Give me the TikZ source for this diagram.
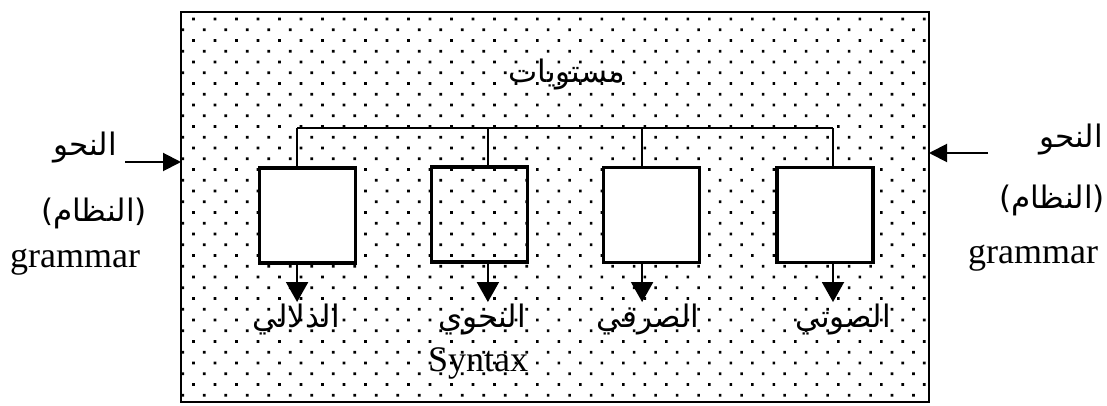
\documentclass[tikz,border=0pt]{standalone}
\usepackage{fontspec}
\setmainfont{Liberation Serif}
\newfontfamily\arabicfont[Script=Arabic]{DejaVu Sans}
\newfontfamily\parenfont{DejaVu Sans}
\TeXXeTstate=1
\usetikzlibrary{arrows.meta,patterns.meta,positioning}

\tikzset{
  frame/.style={draw, line width=1.3pt, outer sep=0pt, minimum width=374pt, minimum height=195pt,
    pattern={Dots[distance=7.6pt, angle=45, radius=0.95pt]}},
  level/.style={draw, line width=1.6pt, outer sep=0pt, minimum width=48pt, minimum height=47.5pt, inner sep=0pt},
  bar/.style={line width=1pt},
  tip/.style={line width=1pt, -{Triangle[length=10pt,width=11pt]}},
  sidetip/.style={line width=1pt, -{Triangle[length=9pt,width=9pt]}},
  ar/.style={font=\arabicfont\fontsize{15.5}{18}\selectfont, inner sep=1pt},
  en/.style={font=\fontsize{18}{20}\selectfont, inner sep=1pt},
}
\newcommand{\inparen}[1]{{\parenfont(}\beginR #1\endR{\parenfont)}}

\begin{document}
\begin{tikzpicture}[x=0.5pt,y=-0.5pt]
\useasboundingbox (0,0) rectangle (1107,406);

% dotted frame
\node[frame] (box) at (555,207) {};
\node[ar] (levels) at (567,75) {\beginR مستويات\endR};

% the four levels
\node[level, fill=white] (dalali) at (307.5,215.5) {};
\node[level] (nahwi) at (479.5,214.5) {};
\node[level, fill=white] (sarfi) at (651.5,215) {};
\node[level, fill=white] (sawti) at (825,215) {};

\node[ar] (l-dalali) at (296,320) {\beginR الدلالي\endR};
\node[ar] (l-nahwi) at (482,320) {\beginR النحوي\endR};
\node[ar] (l-sarfi) at (648,320) {\beginR الصرفي\endR};
\node[ar] (l-sawti) at (843,320) {\beginR الصوتي\endR};
\node[en] (syntax) at (478,363) {Syntax};

\coordinate (top) at (0,128);
\draw[bar] ([xshift=-5.2pt]dalali.north |- top) -- ([xshift=4pt]sawti.north |- top);
\foreach \lv/\sh in {dalali/-5.2pt, nahwi/4.2pt, sarfi/-4.7pt, sawti/4pt} {
  \draw[bar] ([xshift=\sh]\lv.north) -- ([xshift=\sh]\lv.north |- top);
  \draw[tip] ([xshift=\sh]\lv.south) -- ([xshift=\sh]\lv.south |- l-\lv.north);
}

% left side
\node[ar] (nahw-l) at (85,148) {\beginR النحو\endR};
\node[ar] (nizam-l) at (94,213) {\inparen{النظام}};
\node[en] (gram-l) at (75,262) {grammar};
\coordinate (in-l) at (125,162);
\draw[sidetip] (in-l) -- (in-l -| box.west);

% right side
\node[ar] (nahw-r) at (1071,140) {\beginR النحو\endR};
\node[ar] (nizam-r) at (1052,200) {\inparen{النظام}};
\node[en] (gram-r) at (1033,258) {grammar};
\coordinate (in-r) at (988,153);
\draw[sidetip] (in-r) -- (in-r -| box.east);

\end{tikzpicture}
\end{document}
